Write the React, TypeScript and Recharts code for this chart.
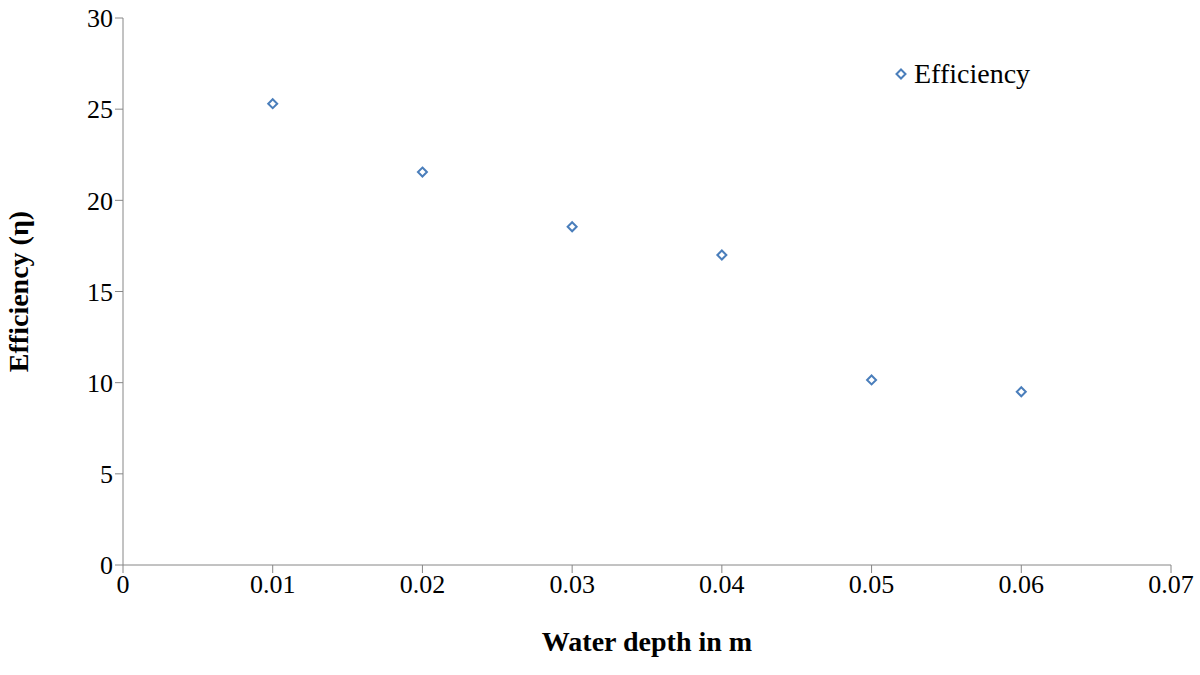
import { ScatterChart, Scatter, XAxis, YAxis, Legend } from 'recharts';

const depth = [0.01, 0.02, 0.03, 0.04, 0.05, 0.06];
const efficiency = [25.3, 21.55, 18.55, 17.0, 10.15, 9.5];
const xTicks = [0, 0.01, 0.02, 0.03, 0.04, 0.05, 0.06, 0.07];
const yTicks = [0, 5, 10, 15, 20, 25, 30];

const data = depth.map((d, i) => ({ x: d, y: efficiency[i] }));
const COLOR = '#4a7ebb';
const FONT = '"Liberation Serif", "Times New Roman", serif';

function Diamond(props: any) {
  const { cx, cy } = props;
  const r = 4.5;
  return (
    <path
      d={`M${cx},${cy - r} L${cx + r},${cy} L${cx},${cy + r} L${cx - r},${cy} Z`}
      fill="#fff"
      stroke={COLOR}
      strokeWidth={2}
    />
  );
}

function LegendBox() {
  return (
    <div style={{ display: 'flex', alignItems: 'center', fontFamily: FONT, fontSize: 28, color: '#000' }}>
      <svg width={14} height={14} style={{ marginRight: 6 }}>
        <path d="M7,2.5 L11.5,7 L7,11.5 L2.5,7 Z" fill="#fff" stroke={COLOR} strokeWidth={2} />
      </svg>
      Efficiency
    </div>
  );
}

export default function App() {
  return (
    <div style={{ position: 'absolute', left: 0, top: 0, background: '#fff' }}>
      <ScatterChart width={1200} height={675} margin={{ top: 18, right: 29, bottom: 0, left: 0 }}>
        <XAxis
          type="number"
          dataKey="x"
          domain={[0, 0.07]}
          ticks={xTicks}
          tickFormatter={(v: number) => (v === 0 ? '0' : String(v))}
          height={78}
          stroke="#868686"
          tickLine={{ stroke: '#868686' }}
          tickSize={8}
          tick={{ fill: '#000', fontSize: 26, fontFamily: FONT }}
          label={{ value: 'Water depth in m', position: 'insideBottom', offset: -8, fill: '#000', fontSize: 28, fontWeight: 'bold', fontFamily: FONT }}
        />
        <YAxis
          type="number"
          dataKey="y"
          domain={[0, 30]}
          ticks={yTicks}
          width={123}
          stroke="#868686"
          tickLine={{ stroke: '#868686' }}
          tickSize={8}
          tick={{ fill: '#000', fontSize: 26, fontFamily: FONT }}
          label={{ value: 'Efficiency (η)', angle: -90, position: 'insideLeft', offset: 18, style: { textAnchor: 'middle' }, fill: '#000', fontSize: 28, fontWeight: 'bold', fontFamily: FONT }}
        />
        <Legend
          content={() => <LegendBox />}
          wrapperStyle={{ position: 'absolute', left: 894, top: 58, width: 'auto' }}
        />
        <Scatter data={data} shape={<Diamond />} isAnimationActive={false} name="Efficiency" />
      </ScatterChart>
    </div>
  );
}
